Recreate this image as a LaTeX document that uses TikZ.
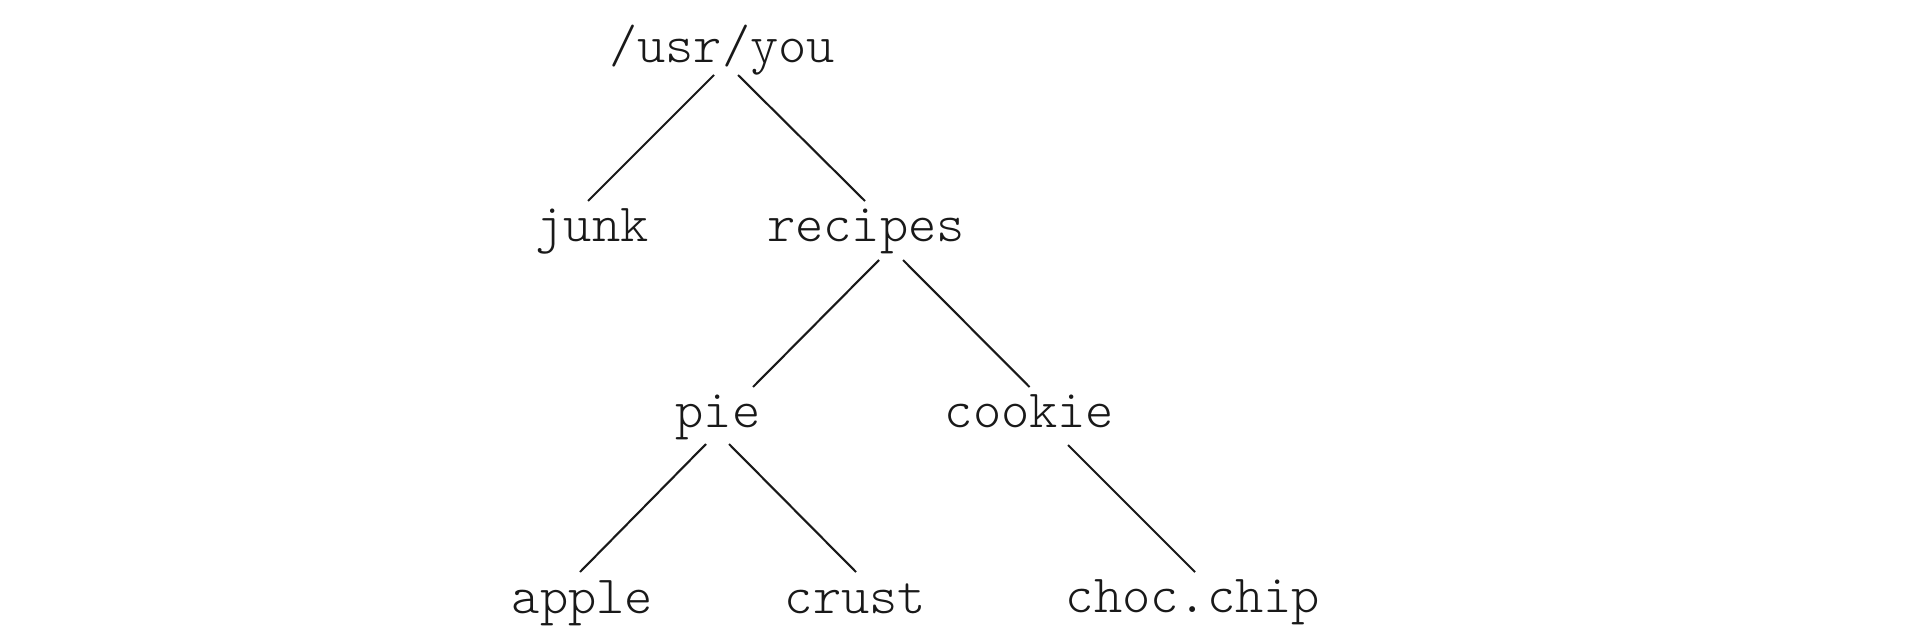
\documentclass[tikz,border=0pt]{standalone}
\usepackage{fontspec}
\setmonofont{Latin Modern Mono Light}
\usetikzlibrary{calc}
\tikzset{
  lbl/.style={anchor=base, inner sep=0pt, text=black!90, font=\ttfamily\fontsize{53.8}{56}\selectfont},
  edge/.style={line width=2.1pt, draw=black!90}
}
\begin{document}
\begin{tikzpicture}[x=1pt,y=-1pt]
\useasboundingbox (0,0) rectangle (1920,643);
\node[lbl] (root) at (722,62) {/usr/you};
\node[lbl] (junk) at (592,241) {junk};
\node[lbl] (recipes) at (866,241) {recipes};
\node[lbl] (pie) at (718,427) {pie};
\node[lbl] (cookie) at (1029.5,427) {cookie};
\node[lbl] (apple) at (582.5,613) {apple};
\node[lbl] (crust) at (855.5,613) {crust};
\node[lbl] (choc) at (1193,612) {choc.chip};
\draw[edge] ($(root.base)+(-8,13)$) -- ($(junk.base)+(-4,-40)$);
\draw[edge] ($(root.base)+(16,13)$) -- ($(recipes.base)+(-1,-40)$);
\draw[edge] ($(recipes.base)+(13,19)$) -- ($(pie.base)+(35,-40)$);
\draw[edge] ($(recipes.base)+(37,19)$) -- ($(cookie.base)+(0,-40)$);
\draw[edge] ($(pie.base)+(-12,17)$) -- ($(apple.base)+(-2.5,-41)$);
\draw[edge] ($(pie.base)+(11,17)$) -- ($(crust.base)+(0.5,-41)$);
\draw[edge] ($(cookie.base)+(38.5,18)$) -- ($(choc.base)+(2,-40)$);
\end{tikzpicture}
\end{document}
